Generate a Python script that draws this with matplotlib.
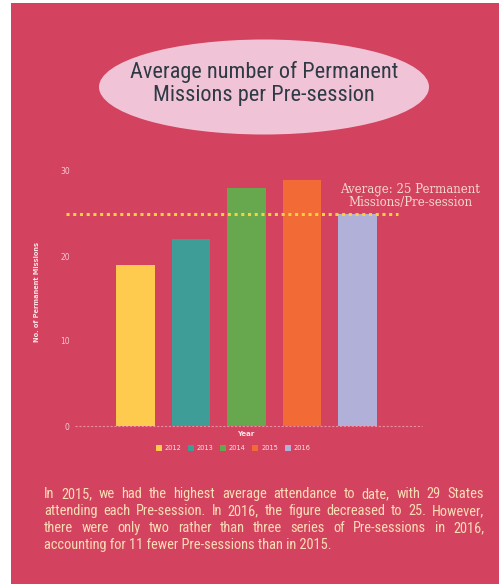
import matplotlib
matplotlib.use("Agg")
import matplotlib.pyplot as plt
from matplotlib import font_manager
from matplotlib.patches import Rectangle, Ellipse, Patch

# Data
years = ["2012", "2013", "2014", "2015", "2016"]
missions = [19, 22, 28, 29, 25]
average = 25
bar_colors = ["#FECB4F", "#3E9D97", "#67A84F", "#F26B36", "#B0B0D8"]
yticks = [0, 10, 20, 30]

title_lines = ["Average number of Permanent", "Missions per Pre-session"]
avg_label = ["Average: 25 Permanent", "Missions/Pre-session"]
body_lines = [
    "In 2015, we had the highest average attendance to date, with 29 States",
    "attending each Pre-session. In 2016, the figure decreased to 25. However,",
    "there were only two rather than three series of Pre-sessions in 2016,",
    "accounting for 11 fewer Pre-sessions than in 2015.",
]

# look for a narrow font, fall back to DejaVu Sans
narrow = None
cands = []
for f in font_manager.fontManager.ttflist:
    nm = f.name + " " + f.fname
    if ("Condensed" in nm or "Narrow" in nm or f.stretch == "condensed") and f.weight in (400, "normal", "regular") and f.style == "normal":
        cands.append(f)
for pref in ["Liberation Sans Narrow", "Roboto Condensed", "Open Sans Condensed", "DejaVu Sans"]:
    hit = [f for f in cands if f.name.startswith(pref)]
    if hit:
        narrow = font_manager.FontProperties(fname=hit[0].fname)
        break
if narrow is None and cands:
    narrow = font_manager.FontProperties(fname=cands[0].fname)
if narrow is None:
    narrow = font_manager.FontProperties(family="DejaVu Sans", stretch="condensed")

W, H = 499, 584
bg = "#D3435F"
fig = plt.figure(figsize=(W / 100, H / 100), dpi=100, facecolor="white")

def fx(px):
    return px / W

def fy(py):
    return 1 - py / H

# pink panel with thin white margin at left/top
fig.patches.append(Rectangle((fx(11), 0), 1 - fx(11), fy(3), transform=fig.transFigure,
                             facecolor=bg, edgecolor="none", zorder=-2))

# title ellipse
fig.patches.append(Ellipse((fx(264), fy(87)), fx(330), 95 / H, transform=fig.transFigure,
                           facecolor="#F1C3D7", edgecolor="none", zorder=-1))
for i, t in enumerate(title_lines):
    fig.text(fx(264), fy(72 + 24 * i), t, ha="center", va="center", fontsize=16,
             fontproperties=narrow, color="#2E3A44")

# chart axes
ax = fig.add_axes([fx(78), fy(426), fx(352), (426 - 162.5) / H])
ax.set_zorder(2)
ax.set_facecolor("none")
x = list(range(len(years)))
ax.bar(x, missions, width=0.7, color=bar_colors, zorder=2)
ax.set_xlim(-1.036, 5.306)
ax.set_ylim(0, 31)
for s in ax.spines.values():
    s.set_visible(False)
ax.set_xticks([])
ax.set_yticks(yticks)
ax.tick_params(axis="y", length=0, pad=6, labelsize=5.5, labelcolor="#F5C9D2")

# zero line and average line
ax.plot([-1.09, 5.16], [0, 0], color="#E98CA0", lw=0.8, ls=(0, (2, 1.5)), clip_on=False, zorder=1)
ax.plot([-1.25, 4.73], [average, average], color="#F7D23E", lw=2.2, ls=(0, (1, 1.2)),
        clip_on=False, zorder=3)
ax.text(4.95, 27.8, avg_label[0], ha="center", va="center", fontsize=8.5,
        family="DejaVu Serif", color="#F3D8CB", zorder=4)
ax.text(4.95, 26.25, avg_label[1], ha="center", va="center", fontsize=8.5,
        family="DejaVu Serif", color="#F3D8CB", zorder=4)

fig.text(fx(37), fy(292), "No. of Permanent Missions", rotation=90, ha="center", va="center",
         fontsize=4.8, fontweight="bold", color="#FBE3E8")
fig.text(fx(246), fy(434), "Year", ha="center", va="center", fontsize=5,
         fontweight="bold", color="#FBE3E8")

handles = [Patch(facecolor=c, edgecolor="none", label=y) for c, y in zip(bar_colors, years)]
fig.legend(handles=handles, loc="center", bbox_to_anchor=(fx(233), fy(448)), ncol=5,
           frameon=False, fontsize=4.8, labelcolor="#FBE3E8", handlelength=0.9,
           handleheight=0.9, handletextpad=0.4, columnspacing=1.0)

# justified paragraph
fig.canvas.draw()
renderer = fig.canvas.get_renderer()
left, right = 44, 484
line_y = [494, 511, 528, 545]
tcol = "#F9DDB5"
fs = 11.5
# shrink if the font is too wide for the longest line
probe = fig.text(0, 0, body_lines[1], fontsize=fs, fontproperties=narrow)
wmax = probe.get_window_extent(renderer).width
probe.remove()
if wmax > (right - left) * 0.97:
    fs = fs * (right - left) * 0.95 / wmax
for i, line in enumerate(body_lines):
    words = line.split(" ")
    if i == len(body_lines) - 1:
        fig.text(fx(left), fy(line_y[i]), line, ha="left", va="center", fontsize=fs,
                 fontproperties=narrow, color=tcol)
        continue
    objs = [fig.text(0, 0, w, fontsize=fs, fontproperties=narrow, color=tcol,
                     va="center") for w in words]
    widths = [o.get_window_extent(renderer).width for o in objs]
    gap = (right - left - sum(widths)) / (len(words) - 1)
    pos = left
    for o, w in zip(objs, widths):
        o.set_position((fx(pos), fy(line_y[i])))
        pos += w + gap

fig.savefig("out.png", dpi=100, facecolor="white")
